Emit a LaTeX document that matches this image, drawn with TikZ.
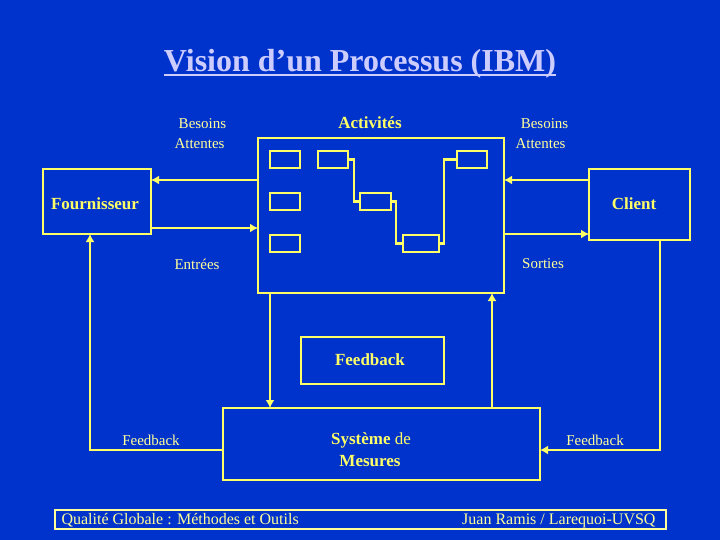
\documentclass[tikz,border=0pt]{standalone}
\usepackage{fontspec}
\setmainfont{Liberation Serif}
\usetikzlibrary{arrows.meta,calc}
\definecolor{bg}{HTML}{0033CC}
\definecolor{ln}{HTML}{FFFF66}
\definecolor{lt}{HTML}{FFFF99}
\definecolor{tt}{HTML}{CCCCFF}
\begin{document}
\begin{tikzpicture}[x=1pt,y=-1pt,
  box/.style={draw=ln,line width=2.7pt,inner sep=0pt,outer sep=0pt},
  sbox/.style={draw=ln,line width=2.3pt,inner sep=0pt,outer sep=0pt,minimum height=17pt,minimum width=30pt},
  con/.style={draw=ln,line width=2.7pt},
  scon/.style={draw=ln,line width=2.3pt},
  arr/.style={con,-{Latex[length=8pt,width=9pt]}},
  lab/.style={text=lt,font=\fontsize{15}{17}\selectfont,inner sep=0pt},
  blab/.style={text=ln,font=\fontsize{17}{19}\selectfont\bfseries,inner sep=0pt},
  foot/.style={text=lt,font=\fontsize{16}{18}\selectfont,inner sep=0pt}]
\fill[bg] (0,0) rectangle (720,540);
\useasboundingbox (0,0) rectangle (720,540);
% title
\node[text=tt,font=\fontsize{32}{35}\selectfont\bfseries,inner sep=0pt] (title) at (360,64) {Vision d’un Processus (IBM)};
\draw[tt,line width=2pt] ([yshift=-3.5pt]title.base west) -- ([yshift=-3.5pt]title.base east);
% main boxes
\node[box,minimum width=108pt,minimum height=65pt] (fourn) at (97,201.5) {};
\node[blab] at (95,204) {Fournisseur};
\node[box,minimum width=101pt,minimum height=71pt] (client) at (639.5,204.5) {};
\node[blab] at (634,204) {Client};
\node[box,minimum width=246pt,minimum height=155pt] (act) at (381,215.5) {};
\node[blab] (actl) at (370,123) {Activités};
\node[box,minimum width=143pt,minimum height=47pt] (fb) at (372.5,360.5) {};
\node[blab] at (370,360) {Feedback};
\node[box,minimum width=317pt,minimum height=72pt] (sys) at (381.5,444) {};
\node[blab] at (371,440) {Système \mdseries de};
\node[blab] at (370,461) {Mesures};
% small boxes
\node[sbox] (b1) at (285,159.5) {};
\node[sbox] (b2) at (333,159.5) {};
\node[sbox] (b3) at (285,201.5) {};
\node[sbox] (b4) at (285,243.5) {};
\node[sbox,minimum width=31pt] (b5) at (375.5,201.5) {};
\node[sbox,minimum width=36pt] (b6) at (421,243.5) {};
\node[sbox] (b7) at (472,159.5) {};
\draw[scon] (b2.east) -| ($(b2.east)+(6,0)$) |- (b5.west);
\draw[scon] (b5.east) -| ($(b5.east)+(5,0)$) |- (b6.west);
\draw[scon] (b6.east) -| ($(b6.east)+(5,0)$) |- (b7.west);
% connectors
\draw[arr] (act.west |- 0,180) -- (fourn.east |- 0,180);
\draw[arr] (fourn.east |- 0,228) -- (act.west |- 0,228);
\draw[arr] (client.west |- 0,180) -- (act.east |- 0,180);
\draw[arr] (act.east |- 0,234) -- (client.west |- 0,234);
\draw[arr] (act.south -| 270,0) -- (sys.north -| 270,0);
\draw[arr] (sys.north -| 492,0) -- (act.south -| 492,0);
\draw[arr] (sys.west |- 0,450) -| (fourn.south -| 90,0);
\draw[arr] (client.south -| 660,0) |- (sys.east |- 0,450);
% labels
\node[lab] at (202.5,124) {Besoins};
\node[lab] at (199.5,144) {Attentes};
\node[lab] at (544.5,124) {Besoins};
\node[lab] at (540.5,144) {Attentes};
\node[lab] at (197,264) {Entrées};
\node[lab] at (543,264) {Sorties};
\node[lab] at (151,440) {Feedback};
\node[lab] at (595,440) {Feedback};
% footer
\node[draw=lt,line width=1.4pt,minimum width=611pt,minimum height=19pt,inner sep=0pt] (footer) at (360.5,519.5) {};
\node[foot,anchor=west] at ([xshift=7pt,yshift=-1pt]footer.west) {Qualité Globale : Méthodes et Outils};
\node[foot,anchor=east] at ([xshift=-11pt,yshift=-1pt]footer.east) {Juan Ramis / Larequoi-UVSQ};
\end{tikzpicture}
\end{document}
